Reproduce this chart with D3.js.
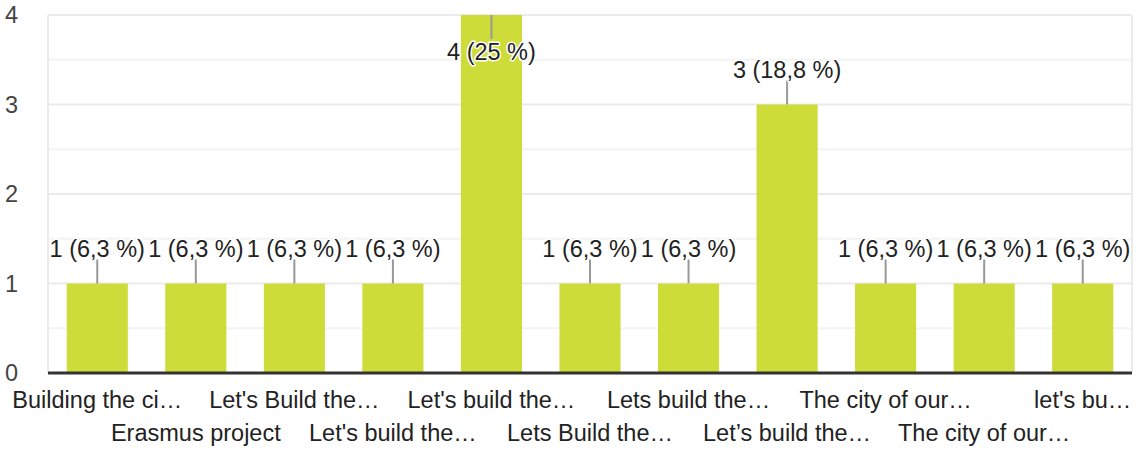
<!DOCTYPE html>
<html>
  <head>
    <meta http-equiv="Content-Type" content="text/html;charset=utf-8"/>
    <script src="https://d3js.org/d3.v7.min.js"></script>
    <style type="text/css">
      body { margin: 0; background: #fff; }
      text { font-family: Arial, "Liberation Sans", sans-serif; }
    </style>
  </head>
  <body>
    <div id="chart"></div>

    <script type="text/javascript">
      var categories = ["Building the ci…", "Erasmus project", "Let's Build the…", "Let's build the…",
                        "Let's build the…", "Lets Build the…", "Lets build the…", "Let’s build the…",
                        "The city of our…", "The city of our…", "let's bu…"];
      var counts = [1, 1, 1, 1, 4, 1, 1, 3, 1, 1, 1];
      var yTicks = [0, 1, 2, 3, 4];
      var yMinor = [0.5, 1.5, 2.5, 3.5];

      var width = 1142, height = 451;
      var margin = {left: 48, right: 10, top: 15, bottom: 78};
      var total = d3.sum(counts);
      var fs = 23.5;

      var svg = d3.select('#chart').append('svg')
          .attr('width', width).attr('height', height);

      var x = d3.scaleBand()
          .domain(d3.range(categories.length))
          .range([margin.left, width - margin.right])
          .paddingInner(0.38).paddingOuter(0.19);
      var y = d3.scaleLinear().domain([0, 4]).range([height - margin.bottom, margin.top]);

      // grid
      svg.selectAll('line.minor').data(yMinor).enter().append('line')
          .attr('x1', margin.left).attr('x2', width - margin.right)
          .attr('y1', function(d) { return y(d); }).attr('y2', function(d) { return y(d); })
          .attr('stroke', '#f3f3f3').attr('stroke-width', 2);
      svg.selectAll('line.major').data(yTicks.slice(1)).enter().append('line')
          .attr('x1', margin.left).attr('x2', width - margin.right)
          .attr('y1', function(d) { return y(d); }).attr('y2', function(d) { return y(d); })
          .attr('stroke', '#ebebeb').attr('stroke-width', 2);
      [margin.left, width - margin.right].forEach(function(px) {
        svg.append('line').attr('x1', px).attr('x2', px)
            .attr('y1', y(4)).attr('y2', y(0))
            .attr('stroke', '#ebebeb').attr('stroke-width', 2);
      });

      // y tick labels
      svg.selectAll('text.ytick').data(yTicks).enter().append('text')
          .attr('x', 5).attr('y', function(d) { return y(d); })
          .attr('dy', '0.36em')
          .attr('font-size', fs).attr('fill', '#444')
          .text(function(d) { return d; });

      // bars
      svg.selectAll('rect.bar').data(counts).enter().append('rect')
          .attr('x', function(d, i) { return x(i); })
          .attr('width', x.bandwidth())
          .attr('y', function(d) { return y(d); })
          .attr('height', function(d) { return y(0) - y(d); })
          .attr('fill', '#cddc39');

      // baseline
      svg.append('line').attr('x1', margin.left).attr('x2', width - margin.right)
          .attr('y1', y(0)).attr('y2', y(0))
          .attr('stroke', '#333').attr('stroke-width', 3);

      // annotations: label above bar, or inside when no room
      function pctLabel(v) {
        var p = Math.round(v / total * 1000) / 10;
        return v + ' (' + String(p).replace('.', ',') + ' %)';
      }
      var ann = svg.selectAll('g.ann').data(counts).enter().append('g');
      ann.append('line')
          .attr('x1', function(d, i) { return x(i) + x.bandwidth() / 2; })
          .attr('x2', function(d, i) { return x(i) + x.bandwidth() / 2; })
          .attr('y1', function(d) { return y(d); })
          .attr('y2', function(d) { return y(d) < 60 ? y(d) + 24 : y(d) - 24; })
          .attr('stroke', '#999').attr('stroke-width', 2);
      ann.append('text')
          .attr('x', function(d, i) { return x(i) + x.bandwidth() / 2; })
          .attr('y', function(d) { return y(d) < 60 ? y(d) + 45 : y(d) - 27; })
          .attr('text-anchor', 'middle')
          .attr('font-size', fs).attr('fill', '#222')
          .attr('stroke', '#fff').attr('stroke-width', 3).attr('paint-order', 'stroke')
          .attr('stroke-linejoin', 'round')
          .text(pctLabel);

      // x labels, staggered in two rows
      svg.selectAll('text.xlab').data(categories).enter().append('text')
          .attr('x', function(d, i) { return x(i) + x.bandwidth() / 2; })
          .attr('y', function(d, i) { return i % 2 == 0 ? 408 : 441; })
          .attr('text-anchor', 'middle')
          .attr('font-size', fs).attr('fill', '#222')
          .text(function(d) { return d; });
    </script>
  </body>
</html>
